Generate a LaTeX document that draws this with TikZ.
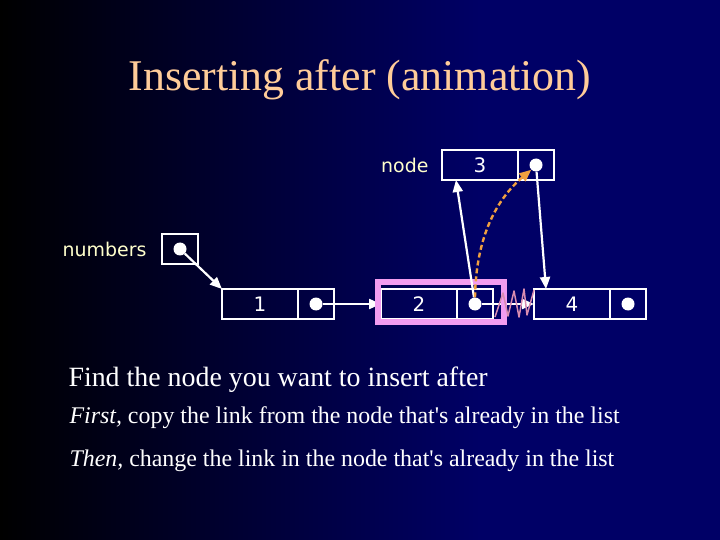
\documentclass[tikz,border=0pt]{standalone}
\usepackage{fontspec}
\setmainfont{Liberation Serif}
\newfontfamily\boxfont{DejaVu Sans}
\usetikzlibrary{arrows.meta, positioning}
\definecolor{bgNavy}{HTML}{000066}
\definecolor{titlePeach}{HTML}{FFCC99}
\definecolor{labelYellow}{HTML}{FFFFCC}
\definecolor{hiPink}{HTML}{F29CF0}
\definecolor{scribblePink}{HTML}{D98CB0}
\definecolor{copyOrange}{HTML}{F0A040}
\tikzset{
  valbox/.style={draw=white, line width=1.8bp, minimum width=76bp, minimum height=30bp,
    inner sep=0pt, outer sep=0pt, text=white, font=\boxfont\fontsize{20}{24}\selectfont},
  ptrbox/.style={valbox, minimum width=36bp},
  dot/.style={circle, fill=white, minimum size=13bp, inner sep=0pt},
  link/.style={draw=white, line width=2.2bp, -{Triangle[length=12bp,width=10bp]}},
  copylink/.style={draw=copyOrange, line width=2.4bp, dash pattern=on 5bp off 3bp,
    -{Triangle[length=12bp,width=10bp]}},
  varlabel/.style={text=labelYellow, font=\boxfont\fontsize{19}{22}\selectfont},
  bodytext/.style={text=white, anchor=base west, font=\fontsize{24}{28}\selectfont}
}
\begin{document}
\begin{tikzpicture}[x=1bp, y=-1bp]
  \fill[bgNavy] (0,0) rectangle (720,540);
  \shade[left color=black, right color=bgNavy] (0,0) rectangle (480,540);
  \useasboundingbox (0,0) rectangle (720,540);
  \node[text=titlePeach, font=\fontsize{44}{50}\selectfont, anchor=base] (title) at (360,91) {Inserting after (animation)};

  \node[ptrbox] (np) at (180,249) {};
  \node[varlabel, left=12bp of np] (numbers) {numbers};
  \node[valbox] (n1v) at (260,304) {1};
  \node[ptrbox, right=0pt of n1v] (n1p) {};
  \node[valbox] (n2v) at (419,304) {2};
  \node[ptrbox, right=0pt of n2v] (n2p) {};
  \node[valbox] (n4v) at (572,304) {4};
  \node[ptrbox, right=0pt of n4v] (n4p) {};
  \node[valbox] (n3v) at (480,165) {3};
  \node[ptrbox, right=0pt of n3v] (n3p) {};
  \node[varlabel, left=10bp of n3v] (nodelbl) {node};

  \node[dot] (dn) at (np) {};
  \node[dot] (d1) at (n1p) {};
  \node[dot] (d2) at (n2p) {};
  \node[dot] (d4) at (n4p) {};
  \node[dot] (d3) at (n3p) {};

  \draw[link] (dn) -- (n1v.north west);
  \draw[link] (d1) -- (n2v.west);
  \draw[link] (d2) -- (n4v.west);
  \draw[hiPink, line width=6bp] (378,282) rectangle (504,322);
  \draw[scribblePink, line width=1.5bp, line join=round] (495,317) -- (503,293) -- (508,316) -- (514,291) -- (519,317) -- (524,289) -- (527,315) -- (534,290);
  \draw[link] (d2) -- ([xshift=14bp]n3v.south west);
  \draw[link] (d3) -- ([xshift=12bp]n4v.north west);
  \draw[copylink] (d2.north) .. controls (476,235) and (498,198) .. (d3.south west);

  \node[bodytext, font=\fontsize{28}{32}\selectfont] (find) at (65,386) {Find the node you want to insert after};
  \node[bodytext] (first) at (66,423) {\textit{First,} copy the link from the node that\textquotesingle s already in the list};
  \node[bodytext] (then) at (66,466) {\textit{Then,} change the link in the node that\textquotesingle s already in the list};
\end{tikzpicture}
\end{document}
